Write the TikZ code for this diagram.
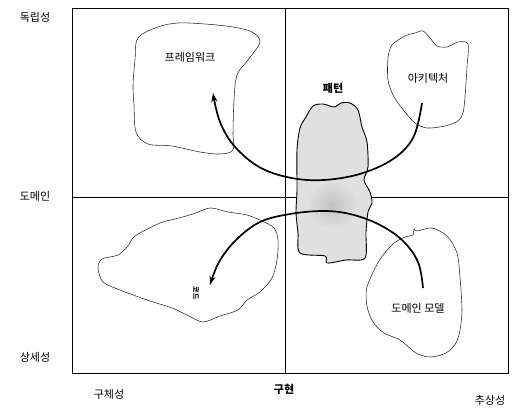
\documentclass[tikz,border=0pt]{standalone}
\usepackage{fontspec}
\setmainfont{Noto Sans CJK KR}
\usetikzlibrary{arrows.meta}
\begin{document}
\begin{tikzpicture}[x=1pt,y=-1pt,
  axislbl/.style={font=\fontsize{11}{12}\selectfont, inner sep=0pt},
  blobline/.style={line width=0.55pt, draw=black!85},
  bigarrow/.style={line width=1.7pt, -{Stealth[length=9pt,width=6pt]}},
  bloblbl/.style={font=\fontsize{11}{12}\selectfont, inner sep=0pt}]
\useasboundingbox (0,0) rectangle (520,409);
% frame and dividers
\draw[line width=0.7pt] (72,8) rectangle (508,373);
\draw[line width=0.6pt] (72,373) -- (508,373);
\draw[line width=0.5pt] (285,8) -- (285,373);
\draw[line width=0.5pt] (72,197) -- (508,197);
% axis labels
\node[axislbl] (indep) at (35,17) {독립성};
\node[axislbl] (dom) at (35,196) {도메인};
\node[axislbl] (detail) at (35,357) {상세성};
\node[axislbl] (concrete) at (109,394) {구체성};
\node[axislbl, font=\fontsize{11}{12}\selectfont\bfseries] (impl) at (284,389) {구현};
\node[axislbl] (abstr) at (490,400) {추상성};
% framework blob
\draw[blobline] plot[smooth cycle, tension=0.55] coordinates {
 (138,38) (158,27) (178,23) (205,24) (233,27) (252,32) (260,42) (248,60)
 (237,75) (234,100) (233,133) (233,150) (220,154) (200,152) (172,146)
 (148,144) (136,132) (134,105) (133,85) (135,60)};
\node[bloblbl] (fw) at (190,57) {프레임워크};
% architecture blob
\draw[blobline] plot[smooth cycle, tension=0.5] coordinates {
 (392,45) (405,36) (415,33) (423,31) (430,38) (437,46) (447,47) (458,42)
 (468,44) (467,67) (465,97) (463,113) (458,121) (445,126) (427,128)
 (415,123) (405,112) (394,97) (388,80) (388,58)};
\node[bloblbl] (arch) at (428,78) {아키텍처};
% code blob
\draw[blobline] plot[smooth cycle, tension=0.5] coordinates {
 (210,208) (228,212) (247,215) (262,221) (274,228) (278,240) (277,260)
 (272,278) (260,292) (247,300) (238,310) (220,316) (203,322) (187,315)
 (172,308) (147,300) (120,290) (103,282) (98,268) (102,259) (118,255)
 (128,246) (135,236) (160,223) (175,219) (193,214)};
\node[font=\fontsize{7}{8}\selectfont\bfseries, inner sep=0pt, rotate=-90] (code) at (196,293) {코드};
% domain model blob
\draw[blobline] plot[smooth cycle, tension=0.5] coordinates {
 (417,231) (432,228) (447,236) (457,253) (460,277) (462,310) (460,330)
 (456,343) (446,353) (430,357) (416,353) (400,340) (384,333) (373,322)
 (367,306) (367,287) (379,261) (393,244) (405,237) (413,235) (414,229)};
\node[bloblbl] (dm) at (418,308) {도메인 모델};
% pattern blob
\node[bloblbl, font=\fontsize{11}{12}\selectfont\bfseries] (pat) at (333,88) {패턴};
\draw[line width=0.9pt, fill=black!12] plot[smooth cycle, tension=0.5] coordinates {
 (313,106) (323,104) (334,107) (341,103) (350,103) (358,110) (362,127)
 (367,142) (368,167) (364,180) (370,192) (372,203) (368,212) (366,232)
 (365,258) (346,260) (327,263) (325,256) (300,253) (298,233) (296,212)
 (297,190) (297,150) (300,128) (306,117)};
\shade[inner color=black!24, outer color=black!12] (332,205) ellipse (26pt and 24pt);
% arrows
\coordinate (a1) at (422,103);
\coordinate (a2) at (213,93);
\draw[bigarrow] plot[smooth, tension=0.6] coordinates {
 (a1) (413,138) (390,161) (352,176) (307,180) (265,170) (236,148) (220,122) (a2)};
\coordinate (b1) at (423,288);
\coordinate (b2) at (210,285);
\draw[bigarrow] plot[smooth, tension=0.6] coordinates {
 (b1) (418,262) (402,240) (378,224) (350,214) (323,211) (290,214) (260,222) (236,240) (219,262) (b2)};
\end{tikzpicture}
\end{document}
